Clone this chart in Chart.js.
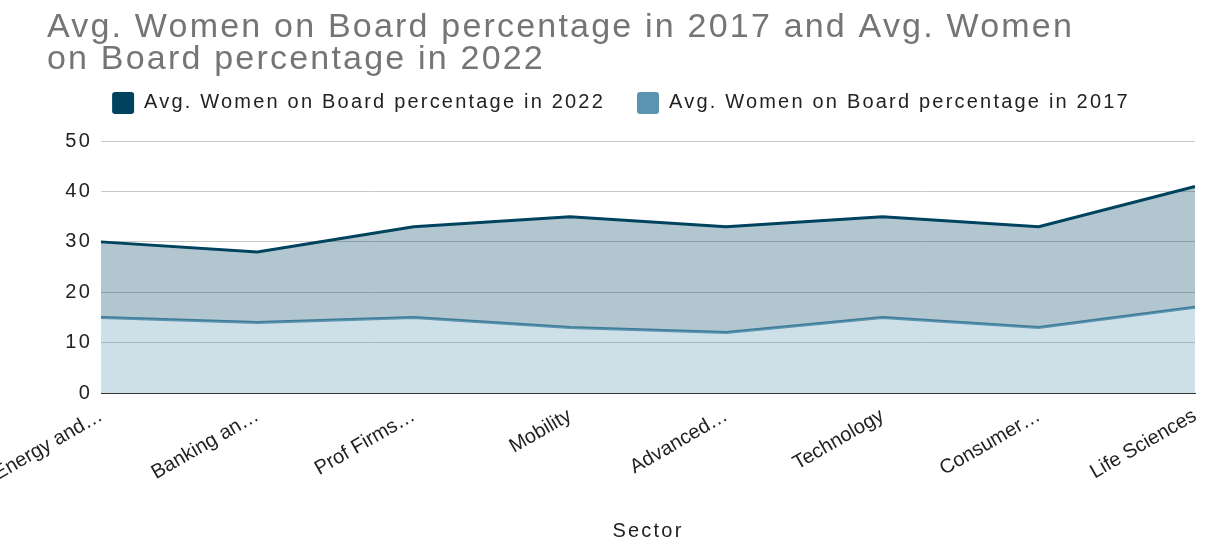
<!DOCTYPE html>
<html>
<head>
<meta charset="utf-8">
<script src="https://cdn.jsdelivr.net/npm/chart.js@4/dist/chart.umd.min.js"></script>
<style>
  html, body { margin: 0; padding: 0; background: #fff; }
  #wrap { width: 1213px; height: 543px; }
</style>
</head>
<body>
<div id="wrap"><canvas id="chart"></canvas></div>
<script>
// --- DANE ---
const sectors = ['Energy and…', 'Banking an…', 'Prof Firms…', 'Mobility', 'Advanced…', 'Technology', 'Consumer…', 'Life Sciences'];
const women2022 = [30, 28, 33, 35, 33, 35, 33, 41];
const women2017 = [15, 14, 15, 13, 12, 15, 13, 17];
const titleLines = ['Avg. Women on Board percentage in 2017 and Avg. Women', 'on Board percentage in 2022'];

const FONT = "'Liberation Sans', Arial, sans-serif";
const DARK = 'rgba(0, 67, 95, 1)';
const LIGHT = 'rgba(90, 148, 176, 1)';

// Szerszy tekst (oryginał ma rozciągnięte litery),
// etykiety osi X (rysowane po danych) bez odstępów
const spacing = {
    id: 'spacing',
    beforeUpdate(chart) { chart.ctx.letterSpacing = '2.2px'; },
    beforeDraw(chart) { chart.ctx.letterSpacing = '2.2px'; },
    afterDatasetsDraw(chart) { chart.ctx.letterSpacing = '0px'; }
};

const ctx = document.getElementById('chart').getContext('2d');

new Chart(ctx, {
    type: 'line',
    plugins: [spacing],
    data: {
        labels: sectors,
        datasets: [{
            label: 'Avg. Women on Board percentage in 2022',
            data: women2022,
            borderColor: DARK,
            backgroundColor: DARK.replace('1)', '0.3)'),
            borderWidth: 3,
            pointRadius: 0,
            tension: 0,
            fill: '+1'
        }, {
            label: 'Avg. Women on Board percentage in 2017',
            data: women2017,
            borderColor: LIGHT,
            backgroundColor: LIGHT.replace('1)', '0.3)'),
            borderWidth: 3,
            pointRadius: 0,
            tension: 0,
            fill: 'origin'
        }]
    },
    options: {
        responsive: true,
        maintainAspectRatio: false,
        animation: false,
        devicePixelRatio: 1,
        layout: { padding: { left: 47, right: 18, top: 8, bottom: 0 } },
        plugins: {
            title: {
                display: true,
                text: titleLines,
                align: 'start',
                color: '#757575',
                font: { family: FONT, size: 34, weight: 'normal', lineHeight: 0.94 },
                // legenda ma duży padding, więc cofamy ją trochę do góry
                padding: { top: 4, bottom: -16 }
            },
            // pusty odstęp pod legendą
            subtitle: {
                display: true,
                text: '',
                weight: 500,
                font: { size: 1 },
                padding: { top: 0, bottom: 16 }
            },
            legend: {
                align: 'center',
                labels: {
                    color: '#222',
                    font: { family: FONT, size: 20 },
                    boxWidth: 22,
                    boxHeight: 22,
                    padding: 32,
                    useBorderRadius: true,
                    borderRadius: 3,
                    // kwadrat w legendzie w kolorze linii
                    generateLabels(chart) {
                        const items = Chart.defaults.plugins.legend.labels.generateLabels(chart);
                        items.forEach(it => {
                            it.fillStyle = it.strokeStyle;
                            it.lineWidth = 0;
                        });
                        return items;
                    }
                }
            },
            tooltip: { enabled: false }
        },
        scales: {
            x: {
                grid: { display: false },
                border: { color: '#333', width: 1 },
                ticks: {
                    color: '#222',
                    font: { family: FONT, size: 20 },
                    minRotation: 30,
                    maxRotation: 30,
                    autoSkip: false,
                    z: 1
                },
                title: {
                    display: true,
                    text: 'Sector',
                    color: '#222',
                    font: { family: FONT, size: 20 },
                    padding: { top: 15, bottom: 0 }
                },
                // nie przesuwamy obszaru wykresu przez obrócone etykiety
                afterFit(scale) {
                    scale.paddingLeft = 0;
                    scale.paddingRight = 0;
                    scale.height = 150;
                }
            },
            y: {
                min: 0,
                max: 50,
                border: { display: false },
                grid: {
                    color: c => c.tick.value === 0 ? '#333' : '#c8c8c8',
                    drawTicks: false
                },
                ticks: {
                    stepSize: 10,
                    color: '#222',
                    font: { family: FONT, size: 20 },
                    padding: 9
                },
                afterFit(scale) {
                    scale.width = 54;
                }
            }
        }
    }
});
</script>
</body>
</html>
